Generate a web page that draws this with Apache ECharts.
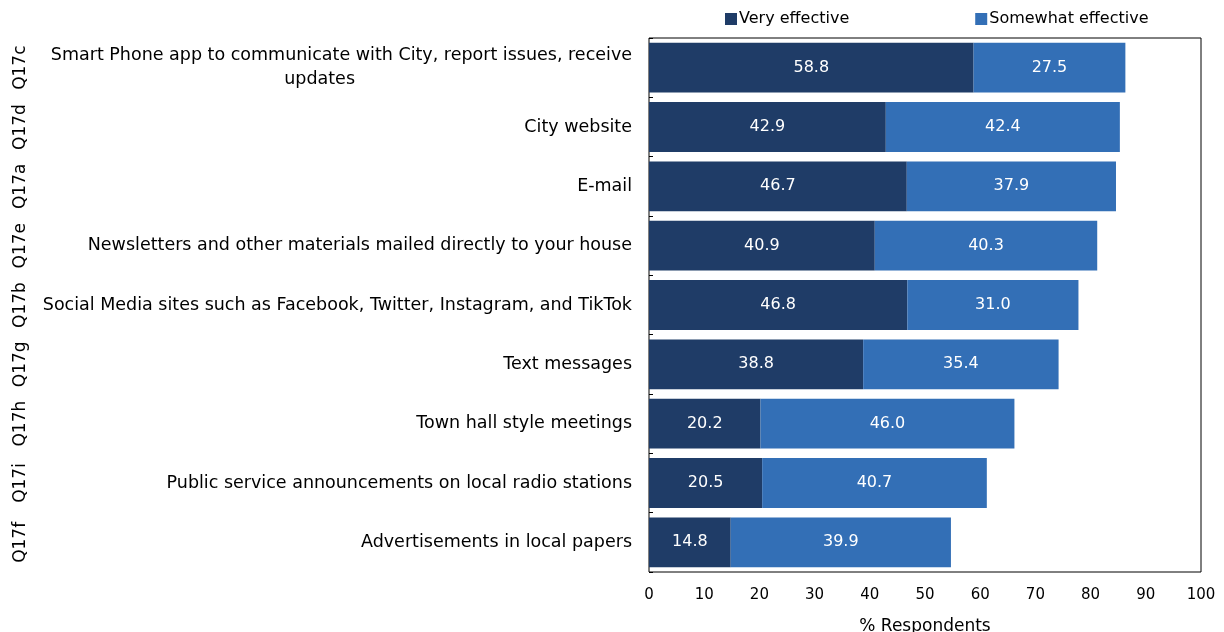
<!DOCTYPE html>
<html><head><meta charset="utf-8">
<script src="https://cdn.jsdelivr.net/npm/echarts@6/dist/echarts.min.js"></script>
<style>html,body{margin:0;padding:0;background:#fff}#c{width:1224px;height:632px}</style>
</head><body><div id="c"></div>
<script>
const categories = [
  "Smart Phone app to communicate with City, report issues, receive\nupdates",
  "City website",
  "E-mail",
  "Newsletters and other materials mailed directly to your house",
  "Social Media sites such as Facebook, Twitter, Instagram, and TikTok",
  "Text messages",
  "Town hall style meetings",
  "Public service announcements on local radio stations",
  "Advertisements in local papers"
];
const codes = ["Q17c","Q17d","Q17a","Q17e","Q17b","Q17g","Q17h","Q17i","Q17f"];
const veryEffective = [58.8, 42.9, 46.7, 40.9, 46.8, 38.8, 20.2, 20.5, 14.8];
const somewhatEffective = [27.5, 42.4, 37.9, 40.3, 31.0, 35.4, 46.0, 40.7, 39.9];
const xTicks = [0,10,20,30,40,50,60,70,80,90,100];

const FONT = "DejaVu Sans";
const chart = echarts.init(document.getElementById('c'));
const labelStyle = {show:true, position:'inside', color:'#fff', fontSize:16, fontFamily:FONT, formatter: p => p.value.toFixed(1)};
chart.setOption({
  animation:false,
  textStyle:{fontFamily:FONT},
  legend:{
    left:720, top:6, icon:'rect', itemWidth:12, itemHeight:12, itemGap:126,
    textStyle:{fontSize:16, fontFamily:FONT, color:'#000', padding:[0,0,0,-3]},
    data:['Very effective','Somewhat effective']
  },
  grid:{left:649, right:23, top:38, bottom:60, outerBoundsMode:'none', containLabel:false,
        show:true, borderColor:'#000', borderWidth:1, backgroundColor:'transparent'},
  xAxis:{
    type:'value', min:xTicks[0], max:xTicks[xTicks.length-1], interval:10,
    axisLine:{show:false}, axisTick:{show:false}, splitLine:{show:false},
    axisLabel:{color:'#000', fontSize:15, fontFamily:FONT, margin:16},
    name:'% Respondents', nameLocation:'middle', nameGap:46,
    nameTextStyle:{color:'#000', fontSize:17, fontFamily:FONT}
  },
  yAxis:[{
    type:'category', inverse:true, data:categories,
    axisLine:{show:false}, axisTick:{show:true, inside:true, length:4, lineStyle:{color:'#000'}},
    axisLabel:{color:'#000', fontSize:17.5, fontFamily:FONT, margin:17, lineHeight:24,
      formatter: v => v.indexOf('\n')>=0 ? v.split('\n')[0] + '\n{u|' + v.split('\n')[1] + '}' : v,
      rich:{u:{fontSize:17.5, fontFamily:FONT, color:'#000', lineHeight:24, padding:[0,277,0,0]}}
    }
  },{
    type:'category', inverse:true, data:codes, position:'left', offset:620,
    axisLine:{show:false}, axisTick:{show:false},
    axisLabel:{color:'#000', fontSize:17, fontFamily:FONT, rotate:90, margin:0, interval:0}
  }],
  series:[
    {name:'Very effective', type:'bar', stack:'s', data:veryEffective, barCategoryGap:'16%',
     itemStyle:{color:'#1F3C67'}, label:labelStyle},
    {name:'Somewhat effective', type:'bar', stack:'s', data:somewhatEffective, barCategoryGap:'16%',
     itemStyle:{color:'#336FB6'}, label:labelStyle}
  ]
});
</script></body></html>
